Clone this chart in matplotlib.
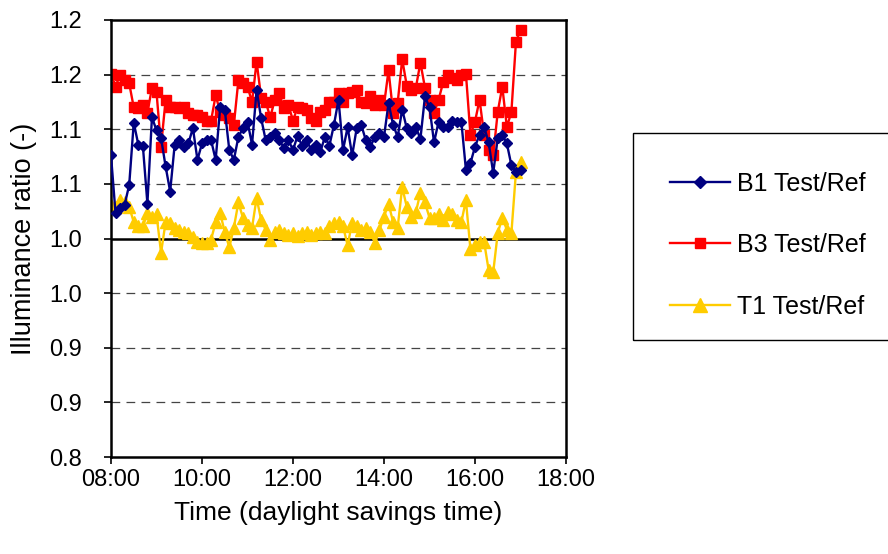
import numpy as np
import matplotlib
matplotlib.use("Agg")
import matplotlib.pyplot as plt
from matplotlib.patches import Rectangle

plt.rcParams["font.family"] = ["Liberation Sans", "DejaVu Sans"]

# logger samples every 6 minutes, 08:00 - 17:00
time_h = 8 + np.arange(91) * 0.1

b1_ratio = [
    1.076, 1.023, 1.028, 1.031, 1.049, 1.106, 1.086, 1.085, 1.032, 1.111,
    1.099, 1.092, 1.066, 1.043, 1.086, 1.090, 1.084, 1.087, 1.101, 1.072,
    1.087, 1.090, 1.090, 1.072, 1.120, 1.118, 1.081, 1.072, 1.093, 1.101,
    1.107, 1.086, 1.136, 1.110, 1.090, 1.093, 1.097, 1.090, 1.083, 1.090,
    1.081, 1.094, 1.085, 1.090, 1.081, 1.086, 1.079, 1.093, 1.085, 1.104,
    1.127, 1.081, 1.102, 1.076, 1.101, 1.104, 1.090, 1.084, 1.093, 1.097,
    1.093, 1.124, 1.104, 1.093, 1.118, 1.101, 1.097, 1.102, 1.091, 1.130,
    1.120, 1.088, 1.107, 1.102, 1.102, 1.108, 1.107, 1.107, 1.063, 1.069,
    1.084, 1.095, 1.102, 1.088, 1.060, 1.092, 1.095, 1.087, 1.067, 1.061,
    1.063,
]
b3_ratio = [
    1.151, 1.139, 1.150, 1.145, 1.142, 1.120, 1.119, 1.122, 1.115, 1.138,
    1.134, 1.084, 1.127, 1.120, 1.120, 1.119, 1.120, 1.115, 1.113, 1.113,
    1.111, 1.108, 1.108, 1.131, 1.116, 1.113, 1.110, 1.104, 1.145, 1.142,
    1.139, 1.125, 1.162, 1.129, 1.125, 1.111, 1.127, 1.133, 1.119, 1.122,
    1.108, 1.120, 1.119, 1.118, 1.110, 1.108, 1.116, 1.118, 1.125, 1.125,
    1.133, 1.125, 1.133, 1.134, 1.136, 1.125, 1.124, 1.130, 1.122, 1.127,
    1.122, 1.154, 1.115, 1.124, 1.164, 1.140, 1.136, 1.138, 1.161, 1.138,
    1.127, 1.115, 1.127, 1.143, 1.150, 1.147, 1.145, 1.150, 1.151, 1.095,
    1.107, 1.127, 1.095, 1.081, 1.076, 1.116, 1.139, 1.102, 1.116, 1.180,
    1.191,
]
t1_ratio = [
    1.031, 1.029, 1.035, 1.033, 1.029, 1.015, 1.011, 1.011, 1.023, 1.020,
    1.022, 0.987, 1.015, 1.014, 1.010, 1.008, 1.006, 1.005, 1.001, 0.997,
    0.996, 0.996, 0.999, 1.015, 1.023, 1.006, 0.992, 1.010, 1.033, 1.019,
    1.012, 1.010, 1.037, 1.017, 1.008, 0.999, 1.006, 1.008, 1.005, 1.003,
    1.005, 1.002, 1.005, 1.006, 1.003, 1.005, 1.006, 1.005, 1.011, 1.014,
    1.015, 1.011, 0.994, 1.014, 1.011, 1.008, 1.010, 1.006, 0.996, 1.008,
    1.020, 1.032, 1.015, 1.010, 1.047, 1.029, 1.020, 1.024, 1.042, 1.033,
    1.019, 1.019, 1.022, 1.017, 1.024, 1.022, 1.017, 1.015, 1.035, 0.990,
    0.994, 0.997, 0.997, 0.971, 0.969, 1.005, 1.019, 1.008, 1.005, 1.061,
    1.070,
]

y_ticks = [0.80, 0.85, 0.90, 0.95, 1.00, 1.05, 1.10, 1.15, 1.20]
y_labels = ["0.8", "0.9", "0.9", "1.0", "1.0", "1.1", "1.1", "1.2", "1.2"]
x_ticks = [8, 10, 12, 14, 16, 18]
x_labels = ["08:00", "10:00", "12:00", "14:00", "16:00", "18:00"]

fig = plt.figure(figsize=(8.88, 5.54), dpi=100)
ax = fig.add_axes([111 / 888, 1 - 457 / 554, 455 / 888, 437 / 554])

for yv in y_ticks[1:-1]:
    if yv == 1.00:
        ax.axhline(yv, color="black", lw=1.8, zorder=1)
    else:
        ax.axhline(yv, color="#444444", lw=0.9, ls=(0, (7, 5)), zorder=1)

ax.plot(time_h, b1_ratio, color="#000080", marker="D", ms=5.5, lw=1.7,
        label="B1 Test/Ref", zorder=3)
ax.plot(time_h, b3_ratio, color="#FF0000", marker="s", ms=6.5, lw=1.7,
        label="B3 Test/Ref", zorder=2)
ax.plot(time_h, t1_ratio, color="#FFCC00", marker="^", ms=8, lw=1.7,
        label="T1 Test/Ref", zorder=2)

ax.set_xlim(8, 18)
ax.set_ylim(0.8, 1.2)
ax.set_xticks(x_ticks)
ax.set_xticklabels(x_labels)
ax.set_yticks(y_ticks)
ax.set_yticklabels(y_labels)
ax.tick_params(labelsize=17, length=5, width=1.2, direction="out")
ax.tick_params(axis="x", pad=4)
ax.tick_params(axis="y", pad=16)
for sp in ax.spines.values():
    sp.set_linewidth(1.8)
ax.set_xlabel("Time (daylight savings time)", fontsize=19, labelpad=7)
ax.set_ylabel("Illuminance ratio (-)", fontsize=19.5, labelpad=9)

# legend frame runs off the right edge
fig.patches.append(Rectangle((633 / 888, 1 - 340 / 554), 0.3, 207 / 554,
                             transform=fig.transFigure, fill=False,
                             edgecolor="black", lw=1.0))
handles, labels = ax.get_legend_handles_labels()
fig.legend(handles, labels, loc="center left",
           bbox_to_anchor=(657 / 888, 1 - 245 / 554), frameon=False,
           fontsize=18, handlelength=2.4, labelspacing=1.5, handletextpad=0.3,
           borderpad=0, markerscale=1.2)

fig.savefig("out.png", dpi=100)
